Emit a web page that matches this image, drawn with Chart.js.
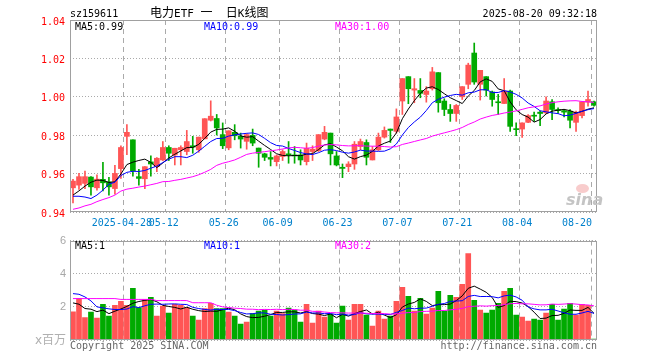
<!DOCTYPE html>
<html>
<head>
<meta charset="utf-8">
<script src="https://cdn.jsdelivr.net/npm/chart.js@4.4.1/dist/chart.umd.min.js"></script>
<style>
  body { margin: 0; background: #fff; }
  #wrap { position: relative; width: 660px; height: 360px; overflow: hidden;
          font-family: "DejaVu Sans Mono", "Noto Sans CJK SC", monospace; font-size: 10px; }
  canvas { position: absolute; left: 0; }
  .t { position: absolute; white-space: pre; line-height: 10px; }
  .cj { font: 12px/12px "Noto Sans CJK SC", sans-serif; }
</style>
</head>
<body>
<div id="wrap">
  <canvas id="k" width="660" height="230" style="top:0"></canvas>
  <canvas id="v" width="660" height="130" style="top:230px"></canvas>

  <div class="t" style="left:70px;top:9px;color:#000">sz159611</div>
  <div class="t" style="left:150px;top:6px;font-size:11px;line-height:12px;color:#000"><span class="cj">电力</span>ETF <span class="cj">一</span>  <span class="cj">日</span>K<span class="cj">线图</span></div>
  <div class="t" style="right:63px;top:9px;color:#000">2025-08-20 09:32:18</div>

  <div class="t" style="left:75px;top:22px;color:#000">MA5:0.99</div>
  <div class="t" style="left:204px;top:22px;color:#0000ff">MA10:0.99</div>
  <div class="t" style="left:335px;top:22px;color:#ff00ff">MA30:1.00</div>

  <div style="position:absolute;left:576px;top:184px;width:13px;height:9px;border-radius:50%;background:rgba(235,110,110,.35)"></div>
  <div class="t" style="left:566px;top:192px;font:italic bold 16px/16px 'DejaVu Sans',sans-serif;color:#c4c4c4">sina</div>

  <div class="t" style="left:75px;top:241px;color:#000">MA5:1</div>
  <div class="t" style="left:204px;top:241px;color:#0000ff">MA10:1</div>
  <div class="t" style="left:335px;top:241px;color:#ff00ff">MA30:2</div>

  <div class="t" style="right:594px;top:334px;font:12px/12px 'DejaVu Sans','Noto Sans CJK SC',sans-serif;color:#b0b0b0">x百万</div>
  <div class="t" style="left:70px;top:341px;color:#666">Copyright 2025 SINA.COM</div>
  <div class="t" style="right:63px;top:341px;color:#666">http://finance.sina.com.cn</div>
</div>

<script>
// trading days shown (2025)
const dates = [
  "04-15","04-16","04-17","04-18","04-21","04-22","04-23","04-24","04-25","04-28",
  "04-29","04-30","05-06","05-07","05-08","05-09","05-12","05-13","05-14","05-15",
  "05-16","05-19","05-20","05-21","05-22","05-23","05-26","05-27","05-28","05-29",
  "05-30","06-03","06-04","06-05","06-06","06-09","06-10","06-11","06-12","06-13",
  "06-16","06-17","06-18","06-19","06-20","06-23","06-24","06-25","06-26","06-27",
  "06-30","07-01","07-02","07-03","07-04","07-07","07-08","07-09","07-10","07-11",
  "07-14","07-15","07-16","07-17","07-18","07-21","07-22","07-23","07-24","07-25",
  "07-28","07-29","07-30","07-31","08-01","08-04","08-05","08-06","08-07","08-08",
  "08-11","08-12","08-13","08-14","08-15","08-18","08-19","08-20"
];
const tickDates = ["04-28","05-12","05-26","06-09","06-23","07-07","07-21","08-04","08-20"];
// last label kept inside the plot (trailing spaces pull it left)
const tickText  = ["2025-04-28","05-12","05-26","06-09","06-23","07-07","07-21","08-04","08-20    "];

const opens = [
  0.9526,0.9540,0.9549,0.9582,0.9526,0.9570,0.9557,0.9522,0.9626,0.9794,
  0.9776,0.9584,0.9573,0.9661,0.9636,0.9671,0.9736,0.9697,0.9724,0.9715,
  0.9745,0.9724,0.9781,0.9878,0.9887,0.9803,0.9734,0.9815,0.9794,0.9768,
  0.9799,0.9733,0.9703,0.9684,0.9662,0.9689,0.9703,0.9697,0.9697,0.9662,
  0.9715,0.9720,0.9780,0.9811,0.9692,0.9633,0.9636,0.9650,0.9741,0.9762,
  0.9671,0.9724,0.9790,0.9832,0.9820,0.9978,1.0105,1.0035,1.0033,1.0012,
  1.0042,1.0126,0.9978,0.9934,0.9913,1.0000,1.0065,1.0228,1.0065,1.0105,
  1.0025,0.9974,0.9965,1.0030,0.9832,0.9832,0.9867,0.9904,0.9920,0.9916,
  0.9974,0.9934,0.9928,0.9925,0.9867,0.9902,0.9972,0.9974
];
const closes = [
  0.9561,0.9584,0.9584,0.9531,0.9571,0.9552,0.9531,0.9601,0.9736,0.9815,
  0.9615,0.9575,0.9636,0.9650,0.9680,0.9736,0.9706,0.9732,0.9736,0.9767,
  0.9738,0.9790,0.9886,0.9899,0.9838,0.9745,0.9823,0.9797,0.9780,0.9803,
  0.9759,0.9706,0.9685,0.9675,0.9692,0.9715,0.9697,0.9692,0.9671,0.9732,
  0.9727,0.9803,0.9815,0.9703,0.9645,0.9627,0.9650,0.9753,0.9767,0.9685,
  0.9724,0.9790,0.9825,0.9825,0.9895,1.0095,1.0042,1.0042,1.0018,1.0030,
  1.0130,0.9969,0.9934,0.9913,0.9955,1.0053,1.0165,1.0077,1.0138,1.0035,
  0.9986,0.9969,1.0030,0.9846,0.9829,0.9864,0.9902,0.9899,0.9913,0.9978,
  0.9934,0.9928,0.9920,0.9878,0.9920,0.9974,0.9986,0.9956
];
const highs = [
  0.9570,0.9601,0.9613,0.9585,0.9593,0.9659,0.9580,0.9643,0.9745,0.9855,
  0.9776,0.9622,0.9636,0.9692,0.9683,0.9767,0.9745,0.9732,0.9745,0.9825,
  0.9794,0.9790,0.9886,0.9979,0.9908,0.9864,0.9823,0.9855,0.9811,0.9808,
  0.9832,0.9733,0.9706,0.9715,0.9697,0.9724,0.9767,0.9741,0.9724,0.9759,
  0.9745,0.9803,0.9846,0.9811,0.9715,0.9650,0.9662,0.9767,0.9780,0.9776,
  0.9741,0.9811,0.9843,0.9832,0.9937,1.0095,1.0105,1.0095,1.0095,1.0053,
  1.0153,1.0126,0.9990,0.9960,0.9960,1.0053,1.0175,1.0280,1.0138,1.0105,
  1.0030,1.0013,1.0095,1.0035,0.9864,0.9864,0.9907,0.9920,0.9925,1.0000,
  0.9986,0.9943,0.9934,0.9934,0.9925,0.9974,1.0030,0.9978
];
const lows = [
  0.9447,0.9517,0.9522,0.9488,0.9514,0.9510,0.9488,0.9493,0.9575,0.9698,
  0.9587,0.9540,0.9522,0.9587,0.9610,0.9668,0.9668,0.9645,0.9645,0.9698,
  0.9706,0.9711,0.9781,0.9874,0.9801,0.9730,0.9724,0.9776,0.9733,0.9727,
  0.9745,0.9633,0.9668,0.9640,0.9640,0.9668,0.9654,0.9654,0.9645,0.9645,
  0.9668,0.9715,0.9776,0.9645,0.9640,0.9579,0.9610,0.9622,0.9724,0.9645,
  0.9671,0.9720,0.9785,0.9762,0.9811,0.9908,0.9964,0.9969,0.9995,0.9972,
  1.0035,0.9920,0.9902,0.9872,0.9872,0.9986,1.0042,1.0065,0.9983,1.0004,
  0.9951,0.9908,0.9965,0.9820,0.9797,0.9789,0.9865,0.9872,0.9850,0.9913,
  0.9881,0.9913,0.9895,0.9838,0.9820,0.9890,0.9951,0.9951
];
// volume, millions
const volumes = [
  1.70,2.50,1.36,1.68,1.32,2.16,1.44,2.10,2.34,2.10,
  3.12,1.96,2.44,2.58,1.44,2.04,1.62,2.16,2.10,1.96,
  1.44,1.20,1.90,2.22,1.90,1.90,1.68,1.44,0.96,1.08,
  1.60,1.74,1.80,1.44,1.74,1.60,1.92,1.80,1.08,2.16,
  1.02,1.74,1.38,1.56,1.02,2.04,1.20,2.16,2.16,1.50,
  0.84,1.74,1.26,1.44,2.34,3.18,2.64,1.74,2.52,1.56,
  1.92,2.94,1.74,2.70,2.58,3.36,5.22,2.40,1.80,1.62,
  1.80,2.22,2.94,3.12,1.50,1.38,1.14,1.26,1.20,1.62,
  2.16,1.20,1.86,2.22,1.50,2.16,2.10,0.06
];

// MA values before a full window is on screen
const ma5Head  = [0.9488,0.9510,0.9535,0.9555];
const ma10Head = [0.9482,0.9482,0.9478,0.9470,0.9488,0.9514,0.9545,0.9555,0.9590];
const ma30Head = [
  0.9414,0.9421,0.9432,0.9440,0.9454,0.9465,0.9475,0.9488,0.9509,0.9519,
  0.9524,0.9530,0.9535,0.9542,0.9549,0.9558,0.9559,0.9565,0.9570,0.9577,
  0.9584,0.9594,0.9607,0.9622,0.9643,0.9654,0.9662,0.9671,0.9685
];
const vma5Head  = [2.24,2.16,1.90,1.86];
const vma10Head = [2.80,2.76,2.60,2.36,2.00,1.94,1.88,1.84,1.84];
const vma30Head = [
  2.50,2.50,2.50,2.50,2.50,2.50,2.50,2.50,2.45,2.45,
  2.45,2.45,2.45,2.45,2.38,2.38,2.38,2.38,2.38,2.38,
  2.25,2.25,2.25,2.25,2.10,2.00,1.96,1.92,1.90
];

const RED = "#ff5555", GREEN = "#00aa00";

function movingAvg(src, n, head) {
  return src.map((_, i) => i < head.length ? head[i]
    : src.slice(i - n + 1, i + 1).reduce((a, b) => a + b, 0) / n);
}
const pts = arr => arr.map((y, i) => ({ x: i + 0.5, y }));
const tickIdx = tickDates.map(d => dates.indexOf(d));
const upColors = opens.map((o, i) => closes[i] >= o ? RED : GREEN);

const boxPlugin = {
  id: "box",
  afterDraw(chart) {
    const { ctx, chartArea: a } = chart;
    ctx.save();
    ctx.strokeStyle = "#a0a0a0";
    ctx.lineWidth = 1;
    ctx.strokeRect(Math.round(a.left) + 0.5, Math.round(a.top) + 0.5,
      Math.round(a.right - a.left) - 1, Math.round(a.bottom - a.top) - 1);
    ctx.restore();
  }
};

function xScale(showLabels, h) {
  return {
    type: "linear", min: 0, max: dates.length, offset: false,
    afterBuildTicks: s => { s.ticks = tickIdx.map(v => ({ value: v })); },
    afterFit: s => { s.height = h; },
    grid: { color: "#aaaaaa", drawTicks: false, offset: false },
    border: { display: false, dash: [5, 4] },
    ticks: {
      display: showLabels, autoSkip: false, maxRotation: 0, padding: 5, labelOffset: -2,
      color: "#0080cc", font: { family: "DejaVu Sans Mono", size: 10 },
      callback: v => tickText[tickIdx.indexOf(v)]
    }
  };
}
const lineDs = (data, color) => ({
  type: "line", data: pts(data), borderColor: color, borderWidth: 1,
  pointRadius: 0, tension: 0, order: 0
});

new Chart(document.getElementById("k"), {
  type: "bar",
  data: {
    datasets: [
      lineDs(movingAvg(closes, 30, ma30Head), "#ff00ff"),
      lineDs(movingAvg(closes, 10, ma10Head), "#0000ff"),
      lineDs(movingAvg(closes, 5, ma5Head), "#000000"),
      { type: "bar", data: opens.map((o, i) => ({ x: i + 0.5, y: [o, closes[i]] })),
        backgroundColor: upColors, barThickness: 5, grouped: false, minBarLength: 1, order: 2 },
      { type: "bar", data: lows.map((l, i) => ({ x: i + 0.5, y: [l, highs[i]] })),
        backgroundColor: upColors, barThickness: 1, grouped: false, order: 3 }
    ]
  },
  options: {
    responsive: false, animation: false,
    layout: { padding: { left: 0, right: 63, top: 20, bottom: 0 } },
    plugins: { legend: { display: false }, tooltip: { enabled: false } },
    scales: {
      x: xScale(true, 18),
      y: {
        min: 0.94, max: 1.04,
        afterFit: s => { s.width = 70; },
        grid: { color: "#aaaaaa", drawTicks: false },
        border: { display: false, dash: [1, 2] },
        ticks: { stepSize: 0.02, padding: 5, labelOffset: 2, color: "#ff0000",
          font: { family: "DejaVu Sans Mono", size: 10 },
          callback: v => v.toFixed(2) }
      }
    }
  },
  plugins: [boxPlugin]
});

new Chart(document.getElementById("v"), {
  type: "bar",
  data: {
    datasets: [
      lineDs(movingAvg(volumes, 30, vma30Head), "#ff00ff"),
      lineDs(movingAvg(volumes, 10, vma10Head), "#0000ff"),
      lineDs(movingAvg(volumes, 5, vma5Head), "#000000"),
      { type: "bar", data: pts(volumes), backgroundColor: upColors,
        barThickness: 5, grouped: false, order: 2 }
    ]
  },
  options: {
    responsive: false, animation: false,
    layout: { padding: { left: 0, right: 63, top: 10, bottom: 0 } },
    plugins: { legend: { display: false }, tooltip: { enabled: false } },
    scales: {
      x: xScale(false, 20),
      y: {
        min: 0, max: 6,
        afterFit: s => { s.width = 70; },
        grid: { color: "#aaaaaa", drawTicks: false },
        border: { display: false, dash: [1, 2] },
        ticks: { stepSize: 2, padding: 4, color: "#a8a8a8",
          font: { family: "Liberation Sans", size: 11 },
          callback: v => v === 0 ? "" : String(v) }
      }
    }
  },
  plugins: [boxPlugin]
});
</script>
</body>
</html>
